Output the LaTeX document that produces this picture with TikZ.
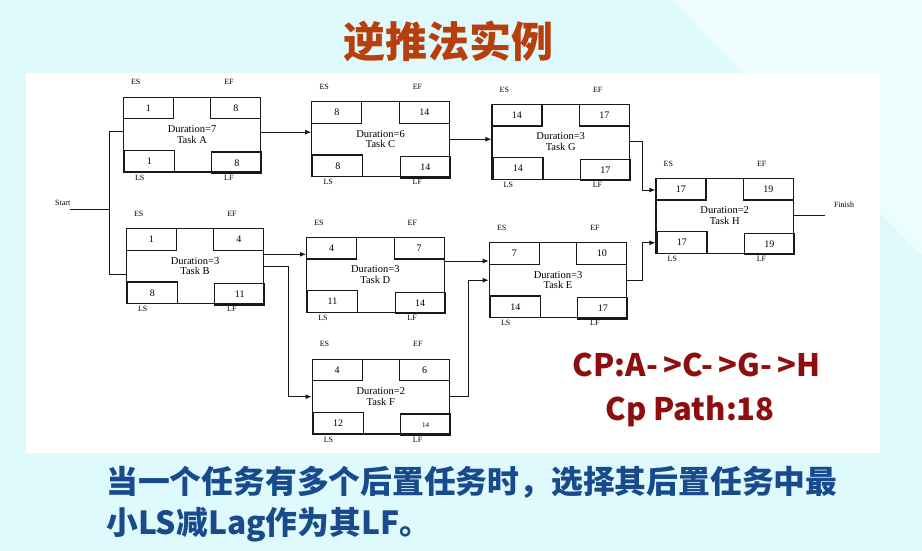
\documentclass[tikz,border=0pt]{standalone}
\usepackage{fontspec}
\setmainfont{Liberation Serif}
\newfontfamily\cjk{Noto Sans CJK SC}
\usetikzlibrary{arrows.meta,calc}
\definecolor{bgc}{RGB}{222,250,253}
\definecolor{bgl}{RGB}{236,253,254}
\definecolor{titc}{RGB}{184,62,12}
\definecolor{cpc}{RGB}{140,14,14}
\definecolor{btc}{RGB}{24,74,140}
\definecolor{ink}{RGB}{25,25,25}
\tikzset{
 tb/.style={draw=ink, line width=1.1pt, minimum width=137.5pt, minimum height=74.6pt, inner sep=0pt, align=center, font={\fontsize{10.5}{10.7}\selectfont}},
 sb/.style={draw=ink, line width=1.1pt, minimum width=50pt, minimum height=21.5pt, inner sep=0pt, font={\fontsize{10}{11}\selectfont}},
 lab/.style={inner sep=0pt, font={\fontsize{8}{9}\selectfont}},
 conn/.style={draw=ink, line width=0.9pt},
 arr/.style={conn, -{Latex[length=6pt,width=5pt]}},
 cjkbig/.style={inner sep=0pt, font={\cjk\bfseries\fontsize{31.8}{34}\selectfont}, text=btc},
}
% name, x, y, ES, EF, LS, LF, duration, task letter
\newcommand\tskbox[9]{%
 \node[tb] (#1) at (#2,#3) {Duration=#8\\Task #9};
 \node[sb, anchor=north west] (#1es) at (#1.north west) {#4};
 \node[sb, anchor=north east] (#1ef) at (#1.north east) {#5};
 \node[sb, anchor=south west] (#1ls) at ([xshift=1pt]#1.south west) {#6};
 \node[sb, anchor=south east] (#1lf) at ([shift={(1pt,-1.5pt)}]#1.south east) {#7};
 \node[lab] (#1esl) at ([shift={(13pt,14.5pt)}]#1.north west) {ES};
 \node[lab] (#1efl) at ([shift={(-32.3pt,14.5pt)}]#1.north east) {EF};
 \node[lab] (#1lsl) at ([shift={(17pt,-5pt)}]#1.south west) {LS};
 \node[lab] (#1lfl) at ([shift={(-32.5pt,-5pt)}]#1.south east) {LF};
}
\begin{document}
\begin{tikzpicture}[x=1pt,y=-1pt]
\fill[bgc] (0,0) rectangle (922,551);
\fill[bgl] (672,0) -- (922,0) -- (922,255) -- cycle;
\useasboundingbox (0,0) rectangle (922,551);
\fill[white] (26,73) rectangle (880,453);
\node[inner sep=0pt, font={\cjk\bfseries\fontsize{42}{48}\selectfont}, text=titc] (title) at (448,41) {逆推法实例};

\tskbox{A}{192}{134.7}{1}{8}{1}{8}{7}{A}
\tskbox{B}{195}{266.2}{1}{4}{8}{11}{3}{B}
\tskbox{C}{380.5}{139.2}{8}{14}{8}{14\hspace{22pt}}{6}{C}
\tskbox{D}{375.3}{274.8}{4}{7}{11}{14}{3}{D}
\tskbox{E}{558}{280.2}{7}{10}{14}{17}{3}{E}
\tskbox{F}{380.8}{396.7}{4}{6}{12}{{\fontsize{7}{8}\selectfont 14}\hspace{25pt}}{2}{F}
\tskbox{G}{560.7}{141.8}{14}{17}{14}{17}{3}{G}
\tskbox{H}{724.7}{215.8}{17}{19}{17}{19}{2}{H}

% start
\node[lab] (start) at (62.8,203) {Start};
\coordinate (st) at (70,209.3);
\coordinate (sj) at (109.3,209.3);
\draw[conn] (st) -- (sj);
\draw[conn] ([yshift=3.4pt]A.west) -| (sj) |- ([yshift=-7.8pt]B.west);

% finish
\node[lab] (finish) at (844,204.3) {Finish};
\coordinate (fin) at (825,216.7);
\draw[conn] (H.east) -- (H.east -| fin);

% arrows
\coordinate (cin) at ([yshift=7pt]C.west);
\draw[arr] (cin -| A.east) -- (cin);
\draw[arr] (C.east) -- (C.east -| G.west);
\coordinate (h1) at ([yshift=25.8pt]H.west);
\draw[arr] (G.east) -| ([xshift=-13pt]h1) -- (h1);
\coordinate (h2) at ([yshift=-27pt]H.west);
\draw[arr] (E.east) -| ([xshift=-13pt]h2) -- (h2);
\coordinate (din) at ([yshift=20.5pt]D.west);
\draw[arr] (din -| B.east) -- (din);
\draw[arr] (B.east) -| ([xshift=-23.5pt]F.west) -- (F.west);
\coordinate (ein) at ([yshift=19.2pt]E.west);
\draw[arr] (ein -| D.east) -- (ein);
\draw[arr] (F.east) -| ([xshift=-20pt]E.west) -- (E.west);

% critical path
\node[inner sep=0pt, font={\cjk\bfseries\fontsize{31}{34}\selectfont}, text=cpc] (cp) at (696.5,365) {CP:A-\,>C-\,>G-\,>H};
\node[inner sep=0pt, font={\cjk\bfseries\fontsize{31}{34}\selectfont}, text=cpc] (cpl) at (690,411.7) {Cp Path:18};

% bottom text
\node[cjkbig, anchor=west] (l1) at (106,482) {当一个任务有多个后置任务时，选择其后置任务中最};
\node[cjkbig, anchor=west] (l2) at (106,525) {小LS减Lag作为其LF。};
\end{tikzpicture}
\end{document}
